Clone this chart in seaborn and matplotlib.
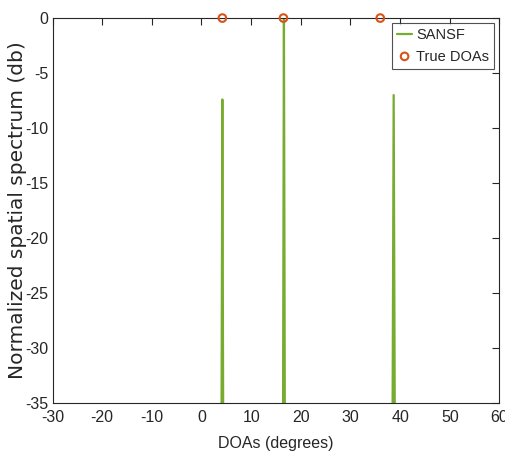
import matplotlib
matplotlib.use("Agg")
import matplotlib.pyplot as plt
import seaborn as sns
import pandas as pd

# Spectrum samples (degrees, dB)
doa_deg = [-30.0, 3.9, 4.2, 4.5, 16.3, 16.6, 16.9, 38.3, 38.7, 39.1, 60.0]
spectrum_db = [-80.0, -60.0, -7.4, -60.0, -60.0, 0.0, -60.0, -60.0, -7.0, -60.0, -80.0]
true_doas = [4.2, 16.5, 36.0]
true_db = [0.0, 0.0, 0.0]
xticks = [-30, -20, -10, 0, 10, 20, 30, 40, 50, 60]
yticks = [0, -5, -10, -15, -20, -25, -30, -35]

sns.set_theme(style="white")
plt.rcParams['font.family'] = ['Liberation Sans', 'DejaVu Sans']

fig = plt.figure(figsize=(5.05, 4.61), dpi=100)
ax = fig.add_axes([0.104, 0.1258, 0.885, 0.835])

df = pd.DataFrame({"doa": doa_deg, "db": spectrum_db})
sns.lineplot(data=df, x="doa", y="db", ax=ax, color="#77AC30", linewidth=1.6,
             label="SANSF", sort=False)
tdf = pd.DataFrame({"doa": true_doas, "db": true_db})
sns.scatterplot(data=tdf, x="doa", y="db", ax=ax, marker="o", s=30,
                facecolors="none", edgecolor="#D95319", linewidth=1.5,
                label="True DOAs", clip_on=False, zorder=5)

ax.set_xlim(-30, 60)
ax.set_ylim(-35, 0)
ax.set_xticks(xticks)
ax.set_yticks(yticks)
ax.set_xticklabels([str(t) for t in xticks])
ax.set_yticklabels([str(t) for t in yticks])
ax.tick_params(direction="in", length=5, width=0.8, colors="#262626",
               labelsize=11.5, top=True, right=True, labelcolor="#262626")
ax.tick_params(axis="x", pad=5)
ax.tick_params(axis="y", pad=3)
for s in ax.spines.values():
    s.set_color("#262626")
    s.set_linewidth(0.8)
ax.set_xlabel("DOAs (degrees)", fontsize=11.5, color="#262626", labelpad=8)
ax.set_ylabel("Normalized spatial spectrum (db)", fontsize=14.5, color="#262626",
              family=['DejaVu Sans'], labelpad=-1)

leg = ax.legend(loc="upper right", fontsize=10.5, frameon=True, fancybox=False,
                edgecolor="#262626", handlelength=1.0, handletextpad=0.3,
                borderaxespad=0.35, borderpad=0.35, labelspacing=0.5,
                handleheight=0.8)
leg.get_frame().set_linewidth(0.8)

fig.savefig("out.png", dpi=100)
